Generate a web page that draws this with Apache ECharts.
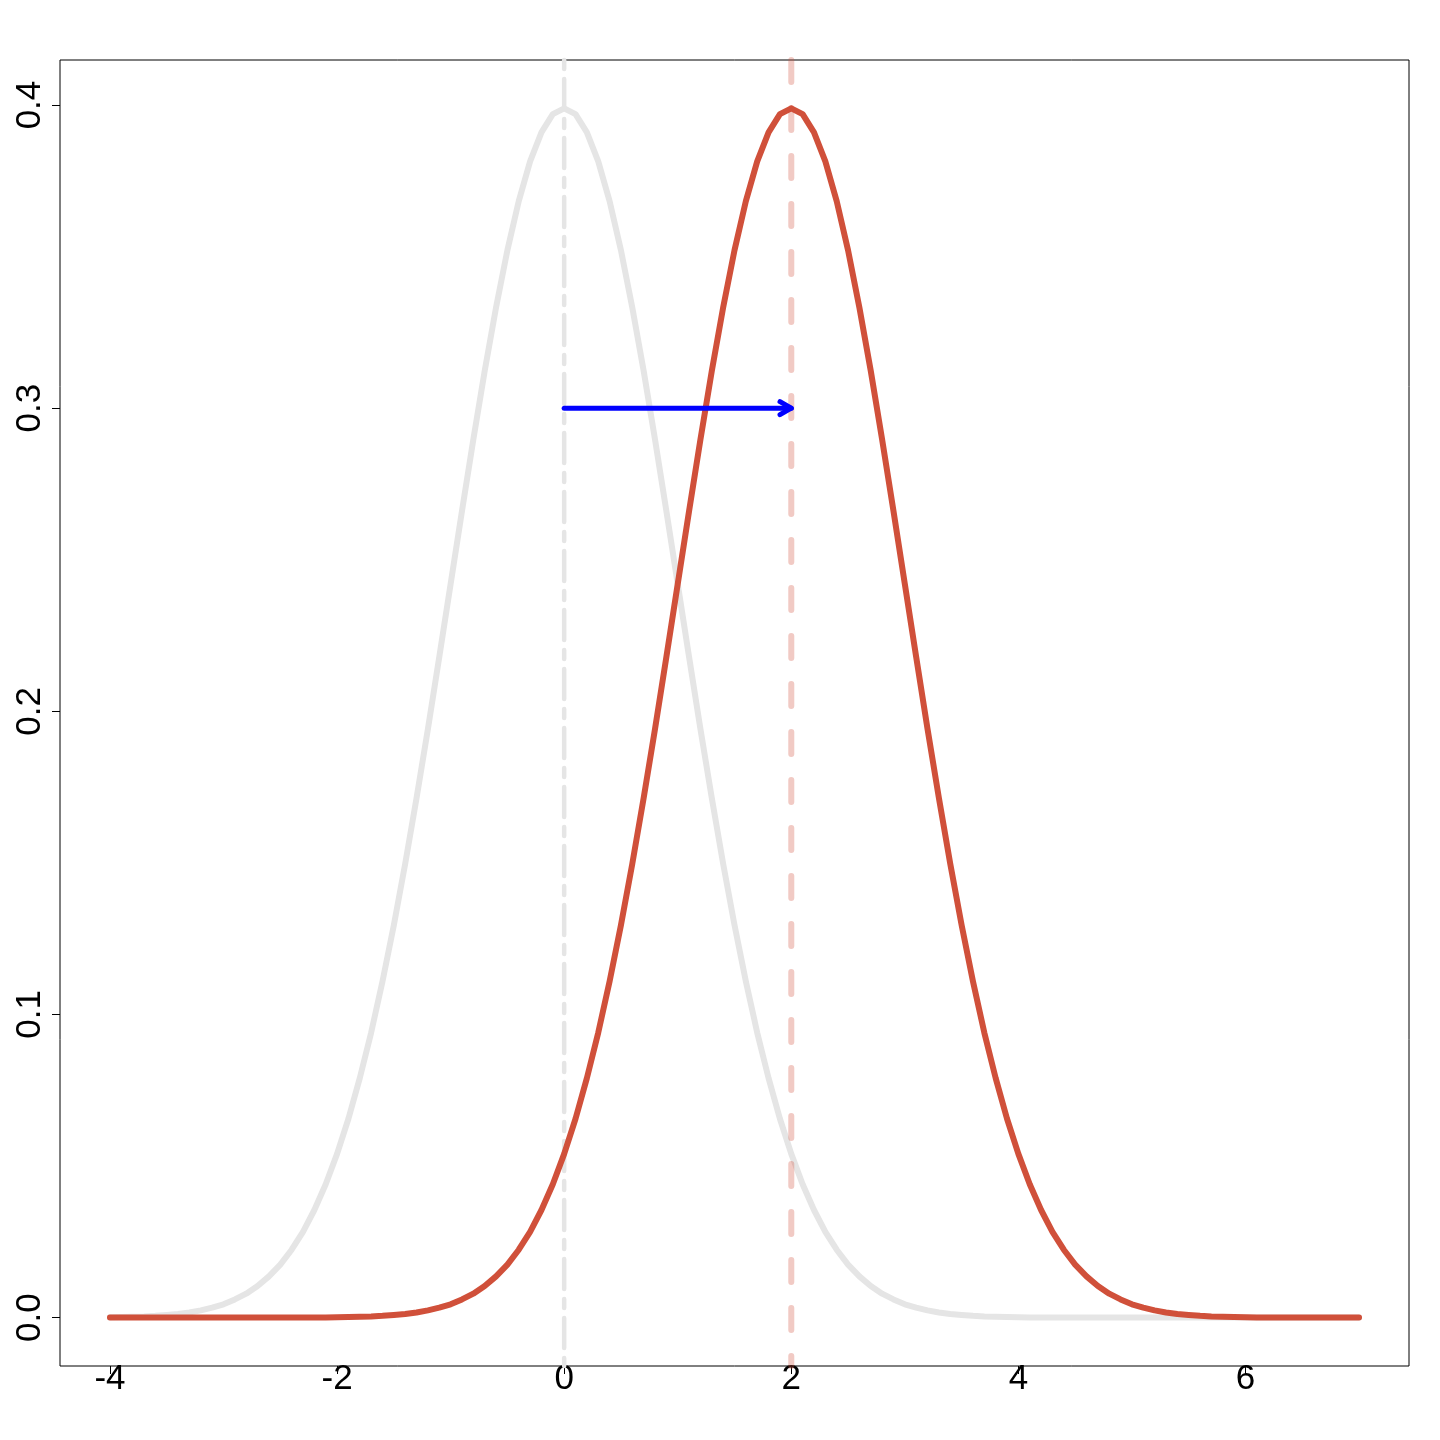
<!DOCTYPE html>
<html>
<head>
<meta charset="utf-8">
<script src="https://cdn.jsdelivr.net/npm/echarts@6/dist/echarts.min.js"></script>
<style>html,body{margin:0;padding:0;background:#fff}#c{width:1440px;height:1440px}</style>
</head>
<body>
<div id="c"></div>
<script>
// x grid (step 0.1 from -4 to 7)
const xValues = [-4,-3.9,-3.8,-3.7,-3.6,-3.5,-3.4,-3.3,-3.2,-3.1,-3,-2.9,-2.8,-2.7,-2.6,-2.5,-2.4,-2.3,-2.2,-2.1,-2,-1.9,-1.8,-1.7,-1.6,-1.5,-1.4,-1.3,-1.2,-1.1,-1,-0.9,-0.8,-0.7,-0.6,-0.5,-0.4,-0.3,-0.2,-0.1,0,0.1,0.2,0.3,0.4,0.5,0.6,0.7,0.8,0.9,1,1.1,1.2,1.3,1.4,1.5,1.6,1.7,1.8,1.9,2,2.1,2.2,2.3,2.4,2.5,2.6,2.7,2.8,2.9,3,3.1,3.2,3.3,3.4,3.5,3.6,3.7,3.8,3.9,4,4.1,4.2,4.3,4.4,4.5,4.6,4.7,4.8,4.9,5,5.1,5.2,5.3,5.4,5.5,5.6,5.7,5.8,5.9,6,6.1,6.2,6.3,6.4,6.5,6.6,6.7,6.8,6.9,7];
// gray curve (centered at 0)
const grayDensity = [0.0001,0.0002,0.0003,0.0004,0.0006,0.0009,0.0012,0.0017,0.0024,0.0033,0.0044,0.0060,0.0079,0.0104,0.0136,0.0175,0.0224,0.0283,0.0355,0.0440,0.0540,0.0656,0.0790,0.0940,0.1109,0.1295,0.1497,0.1714,0.1942,0.2179,0.2420,0.2661,0.2897,0.3123,0.3332,0.3521,0.3683,0.3814,0.3910,0.3970,0.3989,0.3970,0.3910,0.3814,0.3683,0.3521,0.3332,0.3123,0.2897,0.2661,0.2420,0.2179,0.1942,0.1714,0.1497,0.1295,0.1109,0.0940,0.0790,0.0656,0.0540,0.0440,0.0355,0.0283,0.0224,0.0175,0.0136,0.0104,0.0079,0.0060,0.0044,0.0033,0.0024,0.0017,0.0012,0.0009,0.0006,0.0004,0.0003,0.0002,0.0001,0,0,0,0,0,0,0,0,0,0,0,0,0,0,0,0,0,0,0,0,0,0,0,0,0,0,0,0,0,0];
// red curve (centered at 2)
const redDensity = [0,0,0,0,0,0,0,0,0,0,0,0,0,0,0,0,0,0,0,0,0.0001,0.0002,0.0003,0.0004,0.0006,0.0009,0.0012,0.0017,0.0024,0.0033,0.0044,0.0060,0.0079,0.0104,0.0136,0.0175,0.0224,0.0283,0.0355,0.0440,0.0540,0.0656,0.0790,0.0940,0.1109,0.1295,0.1497,0.1714,0.1942,0.2179,0.2420,0.2661,0.2897,0.3123,0.3332,0.3521,0.3683,0.3814,0.3910,0.3970,0.3989,0.3970,0.3910,0.3814,0.3683,0.3521,0.3332,0.3123,0.2897,0.2661,0.2420,0.2179,0.1942,0.1714,0.1497,0.1295,0.1109,0.0940,0.0790,0.0656,0.0540,0.0440,0.0355,0.0283,0.0224,0.0175,0.0136,0.0104,0.0079,0.0060,0.0044,0.0033,0.0024,0.0017,0.0012,0.0009,0.0006,0.0004,0.0003,0.0002,0.0001,0,0,0,0,0,0,0,0,0,0];
const grayMean = [0];
const redMean = [2];
const arrowFrom = [0, 0.3];
const arrowTo = [2, 0.3];
const xTicks = [-4,-2,0,2,4,6];
const yTicks = [0,0.1,0.2,0.3,0.4];

const GRAY = '#E5E5E5';
const RED = '#D0503A';
const FONT = '"Liberation Sans", Arial, sans-serif';

function vline(color, width, dash) {
  return function (params, api) {
    const cs = params.coordSys;
    const p = api.coord([api.value(0), 0]);
    return {
      type: 'line',
      shape: {x1: p[0], y1: cs.y, x2: p[0], y2: cs.y + cs.height},
      style: {stroke: color, lineWidth: width, lineDash: dash, lineCap: 'round'}
    };
  };
}

const chart = echarts.init(document.getElementById('c'), null, {renderer: 'canvas'});
chart.setOption({
  animation: false,
  backgroundColor: '#fff',
  grid: {left: 60, top: 60, right: 31, bottom: 74, show: true, borderColor: '#000', borderWidth: 1, backgroundColor: 'transparent'},
  xAxis: {
    type: 'value', min: -4.44, max: 7.44,
    splitLine: {show: false},
    axisLine: {show: false, onZero: false},
    axisTick: {show: true, customValues: xTicks, length: 8, lineStyle: {color: '#000', width: 1}},
    axisLabel: {customValues: xTicks, fontFamily: FONT, fontSize: 35, color: '#000', margin: -4, formatter: v => String(v)}
  },
  yAxis: {
    type: 'value', min: -0.01596, max: 0.41486,
    splitLine: {show: false},
    axisLine: {show: false, onZero: false},
    axisTick: {show: true, customValues: yTicks, length: 8, lineStyle: {color: '#000', width: 1}},
    axisLabel: {customValues: yTicks, rotate: 90, fontFamily: FONT, fontSize: 35, color: '#000', margin: 12, formatter: v => v.toFixed(1)}
  },
  series: [
    {
      type: 'line', data: xValues.map((x, i) => [x, grayDensity[i]]),
      showSymbol: false, smooth: false, z: 1,
      lineStyle: {color: GRAY, width: 6, cap: 'round', join: 'round'}
    },
    {
      type: 'custom', data: grayMean.map(v => [v]), z: 2,
      renderItem: vline(GRAY, 4.5, [9, 10, 30, 10]), silent: true
    },
    {
      type: 'line', data: xValues.map((x, i) => [x, redDensity[i]]),
      showSymbol: false, smooth: false, z: 3,
      lineStyle: {color: RED, width: 6, cap: 'round', join: 'round'}
    },
    {
      type: 'custom', data: redMean.map(v => [v]), z: 4,
      renderItem: vline('rgba(208,80,58,0.3)', 6, [22, 26]), silent: true
    },
    {
      type: 'custom', data: [[arrowFrom[0], arrowFrom[1], arrowTo[0], arrowTo[1]]], z: 5, silent: true,
      renderItem: function (params, api) {
        const a = api.coord([api.value(0), api.value(1)]);
        const b = api.coord([api.value(2), api.value(3)]);
        const ang = Math.atan2(b[1] - a[1], b[0] - a[0]);
        const L = 13, th = Math.PI / 6;
        const h1 = [b[0] - L * Math.cos(ang - th), b[1] - L * Math.sin(ang - th)];
        const h2 = [b[0] - L * Math.cos(ang + th), b[1] - L * Math.sin(ang + th)];
        const st = {stroke: '#0000FF', lineWidth: 5, lineCap: 'round', lineJoin: 'round', fill: null};
        return {
          type: 'group',
          children: [
            {type: 'line', shape: {x1: a[0], y1: a[1], x2: b[0], y2: b[1]}, style: st},
            {type: 'polyline', shape: {points: [h1, b, h2]}, style: st}
          ]
        };
      }
    }
  ]
});
</script>
</body>
</html>
